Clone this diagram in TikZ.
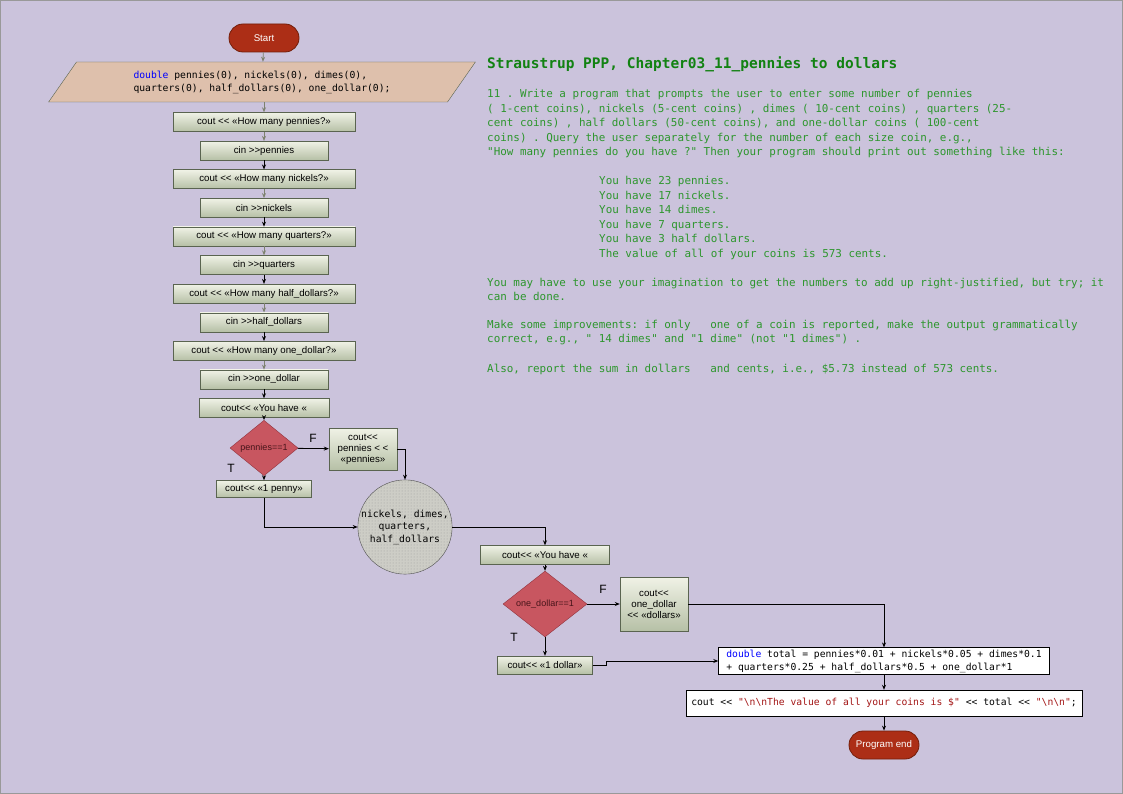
\documentclass[tikz,border=0pt]{standalone}
\usepackage{fontspec}
\setmainfont{Liberation Sans}
\setmonofont{DejaVu Sans Mono}
\usepackage{tikz}
\usetikzlibrary{positioning, shapes.geometric, arrows.meta, patterns}
\definecolor{bgpurple}{RGB}{203,195,220}
\definecolor{termred}{RGB}{172,46,22}
\definecolor{termedge}{RGB}{115,30,10}
\definecolor{parfill}{RGB}{222,192,172}
\definecolor{boxtop}{RGB}{240,242,230}
\definecolor{boxbot}{RGB}{182,192,166}
\definecolor{boxedge}{RGB}{90,100,80}
\definecolor{decfill}{RGB}{200,86,96}
\definecolor{decedge}{RGB}{145,50,60}
\definecolor{dectext}{RGB}{70,20,25}
\definecolor{kwblue}{RGB}{0,0,255}
\definecolor{strred}{RGB}{163,21,21}
\definecolor{titlegreen}{RGB}{18,130,18}
\definecolor{textgreen}{RGB}{45,150,45}
\definecolor{arrowgray}{RGB}{125,130,110}
\definecolor{coinfill}{RGB}{205,205,198}
\tikzset{
x=1pt, y=-1pt, % one unit is one pixel of the picture
>={Stealth[length=5pt,width=4pt]}, % small solid arrow heads
node distance=28.6pt, % distance between the centres of the boxes of the column
every node/.style={font=\fontsize{9.7}{11}\selectfont},
flow/.style={->, line width=0.8pt}, % black connectors
flowgray/.style={->, line width=0.8pt, draw=arrowgray}, % grey connectors
terminal/.style={rectangle, rounded corners=14pt, draw=termedge, thick, fill=termred, text=white, minimum width=70pt, minimum height=28pt},
iobox/.style={trapezium, trapezium left angle=56, trapezium right angle=124, trapezium stretches=true, draw=boxedge, fill=parfill, minimum width=427pt, minimum height=40pt, align=left, font=\fontsize{9.7}{13}\selectfont\ttfamily},
process/.style={rectangle, draw=boxedge, top color=boxtop, bottom color=boxbot, minimum height=19pt, inner sep=1pt, align=center},
coutbox/.style={process, minimum width=182pt},
cinbox/.style={process, minimum width=128pt},
decision/.style={diamond, draw=decedge, fill=decfill, text=dectext, inner sep=0pt, font=\fontsize{9}{10}\selectfont},
junction/.style={circle, draw=black!70, fill=coinfill, postaction={pattern=dots, pattern color=gray!75}, minimum size=94pt, inner sep=0pt, align=center, font=\fontsize{9.7}{12.5}\selectfont\ttfamily},
codebox/.style={rectangle, draw=black, fill=white, inner sep=2pt, align=left, font=\fontsize{9.7}{13}\selectfont\ttfamily},
branch/.style={font=\fontsize{12}{14}\selectfont},
desc/.style={anchor=west, align=left, inner sep=0pt, text=textgreen, font=\fontsize{10.9}{14.5}\selectfont\ttfamily},
}

\begin{document}
\begin{tikzpicture}
    \useasboundingbox (0,0) rectangle (1123,794);
    \draw[gray!80, fill=bgpurple] (0.5,0.5) rectangle (1122.5,793.5);

    % left column
    \node[terminal] (start) at (264,38) {Start};
    \node[iobox] (vars) at (262,82) {{\color{kwblue}double} pennies(0), nickels(0), dimes(0),\\quarters(0), half\_dollars(0), one\_dollar(0);};
    \node[coutbox] (askp) at (264,122) {cout {<}{<} «How many pennies?»};
    \node[cinbox, below of=askp] (inp) {cin {>}{>}pennies};
    \node[coutbox, below of=inp] (askn) {cout {<}{<} «How many nickels?»};
    \node[cinbox, below of=askn] (inn) {cin {>}{>}nickels};
    \node[coutbox, below of=inn] (askq) {cout {<}{<} «How many quarters?»};
    \node[cinbox, below of=askq] (inq) {cin {>}{>}quarters};
    \node[coutbox, below of=inq] (askh) {cout {<}{<} «How many half\_dollars?»};
    \node[cinbox, below of=askh] (inh) {cin {>}{>}half\_dollars};
    \node[coutbox, below of=inh] (asko) {cout {<}{<} «How many one\_dollar?»};
    \node[cinbox, below of=asko] (ino) {cin {>}{>}one\_dollar};
    \node[process, minimum width=130pt, below of=ino] (have1) {cout{<}{<} «You have «};

    % pennies
    \node[decision, minimum width=68pt, minimum height=40pt] (ispenny) at (264,448) {pennies==1};
    \node[process, minimum width=68pt, minimum height=42pt] (manyp) at (363,449) {cout{<}{<}\\pennies {<} {<}\\«pennies»};
    \node[process, minimum width=95pt, minimum height=17pt] (onep) at (264,489) {cout{<}{<} «1 penny»};
    \node[branch] (fp) at (313,438) {F};
    \node[branch] (tp) at (231,468) {T};
    \node[junction] (coins) at (405,527) {nickels, dimes,\\quarters,\\half\_dollars};

    % dollars
    \node[process, minimum width=129pt] (have2) at (545,555) {cout{<}{<} «You have «};
    \node[decision, minimum width=84pt, minimum height=49pt] (isdollar) at (545,604) {one\_dollar==1};
    \node[process, minimum width=68pt, minimum height=54pt] (manyd) at (654,604) {cout{<}{<}\\one\_dollar\\{<}{<} «dollars»};
    \node[process, minimum width=95pt, minimum height=18pt] (oned) at (545,665) {cout{<}{<} «1 dollar»};
    \node[branch] (fd) at (603,589) {F};
    \node[branch] (td) at (514,637) {T};
    \node[codebox, minimum width=331pt, minimum height=26pt] (total) at (884,661) {{\color{kwblue}double} total = pennies*0.01 + nickels*0.05 + dimes*0.1\\+ quarters*0.25 + half\_dollars*0.5 + one\_dollar*1};
    \node[codebox, minimum width=396pt, minimum height=26pt] (show) at (884,703) {cout {<}{<} {\color{strred}"\textbackslash n\textbackslash nThe value of all your coins is \$"} {<}{<} total {<}{<} {\color{strred}"\textbackslash n\textbackslash n"};};
    \node[terminal] (stop) at (884,745) {Program end};

    % task text
    \node[desc, text=titlegreen, font=\fontsize{14.5}{17}\selectfont\ttfamily\bfseries] (title) at (487,64) {Straustrup PPP, Chapter03\_11\_pennies to dollars};
    \node[desc] (task) at (487,124) {11 . Write a program that prompts the user to enter some number of pennies\\( 1-cent coins), nickels (5-cent coins) , dimes ( 10-cent coins) , quarters (25-\\cent coins) , half dollars (50-cent coins), and one-dollar coins ( 100-cent\\coins) . Query the user separately for the number of each size coin, e.g.,\\"How many pennies do you have ?" Then your program should print out something like this:};
    \node[desc] (sample) at (599,218) {You have 23 pennies.\\You have 17 nickels.\\You have 14 dimes.\\You have 7 quarters.\\You have 3 half dollars.\\The value of all of your coins is 573 cents.};
    \node[desc] (hint) at (487,289.5) {You may have to use your imagination to get the numbers to add up right-justified, but try; it\\can be done.};
    \node[desc] (improve) at (487,332.5) {Make some improvements: if only\ \ \ one of a coin is reported, make the output grammatically\\correct, e.g., " 14 dimes" and "1 dime" (not "1 dimes") .};
    \node[desc] (also) at (487,369) {Also, report the sum in dollars\ \ \ and cents, i.e., \$5.73 instead of 573 cents.};

    % connectors
    \draw[flowgray] (start) -- (vars);
    \draw[flowgray] (vars.south -| askp.north) -- (askp);
    \draw[flowgray] (askp) -- (inp);
    \draw[flow] (inp) -- (askn);
    \draw[flowgray] (askn) -- (inn);
    \draw[flow] (inn) -- (askq);
    \draw[flowgray] (askq) -- (inq);
    \draw[flow] (inq) -- (askh);
    \draw[flowgray] (askh) -- (inh);
    \draw[flow] (inh) -- (asko);
    \draw[flowgray] (asko) -- (ino);
    \draw[flow] (ino) -- (have1);
    \draw[flow] (have1) -- (ispenny);
    \draw[flow] (ispenny) -- (manyp);
    \draw[flow] (ispenny) -- (onep);
    \draw[flow] (manyp.east) -| (coins.north);
    \draw[flow] (onep.south) |- (coins.west);
    \draw[flow] (coins.east) -| (have2.north);
    \draw[flow] (have2) -- (isdollar);
    \draw[flow] (isdollar) -- (manyd);
    \draw[flow] (isdollar) -- (oned);
    \draw[flow] (manyd.east) -| (total.north);
    \draw[flow] (oned.east) -- ++(14,0) -- ++(0,-4) -- (total.west);
    \draw[flow] (total) -- (show);
    \draw[flow] (show) -- (stop);
\end{tikzpicture}
\end{document}
